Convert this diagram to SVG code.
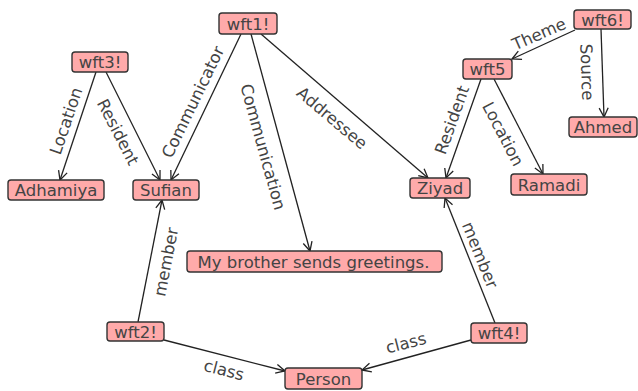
<svg xmlns="http://www.w3.org/2000/svg" width="638" height="391" viewBox="0 0 638 391">
<defs>
<marker id="arr" viewBox="-10 -6 12 12" refX="0" refY="0" markerWidth="12" markerHeight="12" markerUnits="userSpaceOnUse" orient="auto">
<path d="M-9,-4.5 L0,0 L-9,4.5" fill="none" stroke="#222" stroke-width="1.3"/>
</marker>
<style>
.n rect{fill:#ffaaaa;stroke:#333;stroke-width:1.4}
.n text{font-family:"DejaVu Sans",sans-serif;font-size:16.5px;fill:#444;text-anchor:middle}
#edges line{stroke:#222;stroke-width:1.3;marker-end:url(#arr)}
#edges text{font-family:"DejaVu Sans",sans-serif;font-size:16.5px;fill:#444;text-anchor:middle}
</style>
</defs>
<rect width="638" height="391" fill="#fff"/>
<g id="edges">
<line x1="96" y1="72" x2="60" y2="180"/>
<line x1="106" y1="72" x2="160" y2="180"/>
<line x1="241" y1="34" x2="171" y2="180"/>
<line x1="251" y1="34" x2="310" y2="251"/>
<line x1="261" y1="34" x2="428" y2="178"/>
<line x1="575" y1="30" x2="512" y2="59"/>
<line x1="601" y1="29" x2="604" y2="117"/>
<line x1="481" y1="79" x2="446" y2="178"/>
<line x1="494" y1="79" x2="543" y2="174"/>
<line x1="138" y1="322" x2="162" y2="200"/>
<line x1="164" y1="340" x2="285" y2="371"/>
<line x1="495" y1="323" x2="445" y2="198"/>
<line x1="471" y1="340" x2="362" y2="370"/>
<text transform="translate(66,121) rotate(-71.2)" y="5.7">Location</text>
<text transform="translate(118,132) rotate(62.8)" y="5.7">Resident</text>
<text transform="translate(193,102) rotate(-64.1)" y="5.7">Communicator</text>
<text transform="translate(263,147) rotate(74.5)" y="5.7">Communication</text>
<text transform="translate(332,118) rotate(40.2)" y="5.7">Addressee</text>
<text transform="translate(539,34) rotate(-23.5)" y="5.7">Theme</text>
<text transform="translate(587,72) rotate(88)" y="5.7">Source</text>
<text transform="translate(452,120) rotate(-70.3)" y="5.7">Resident</text>
<text transform="translate(503,134) rotate(62.5)" y="5.7">Location</text>
<text transform="translate(166,262) rotate(-78.9)" y="5.7">member</text>
<text transform="translate(224,370) rotate(14.4)" y="5.7">class</text>
<text transform="translate(480,255) rotate(68)" y="5.7">member</text>
<text transform="translate(406,343) rotate(-14.3)" y="5.7">class</text>
</g>
<g id="wft1" class="n"><rect x="219" y="13" width="58" height="21" rx="3"/><text x="248" y="29.5">wft1!</text></g>
<g id="wft3" class="n"><rect x="72" y="52" width="56" height="20" rx="3"/><text x="100" y="68">wft3!</text></g>
<g id="adhamiya" class="n"><rect x="8" y="180" width="96" height="20" rx="3"/><text x="56" y="196">Adhamiya</text></g>
<g id="sufian" class="n"><rect x="133" y="180" width="66" height="20" rx="3"/><text x="166" y="196">Sufian</text></g>
<g id="wft6" class="n"><rect x="574" y="10" width="57" height="19" rx="3"/><text x="602.5" y="25.5">wft6!</text></g>
<g id="wft5" class="n"><rect x="463" y="59" width="49" height="20" rx="3"/><text x="487.5" y="75">wft5</text></g>
<g id="ahmed" class="n"><rect x="569" y="117" width="68" height="20" rx="3"/><text x="603" y="133">Ahmed</text></g>
<g id="ziyad" class="n"><rect x="410" y="178" width="60" height="20" rx="3"/><text x="440" y="194">Ziyad</text></g>
<g id="ramadi" class="n"><rect x="511" y="174" width="76" height="21" rx="3"/><text x="549" y="190.5">Ramadi</text></g>
<g id="message" class="n"><rect x="187" y="251" width="255" height="21" rx="3"/><text x="313.5" y="267.5">My brother sends greetings.</text></g>
<g id="wft2" class="n"><rect x="107" y="322" width="57" height="19" rx="3"/><text x="135.5" y="337.5">wft2!</text></g>
<g id="person" class="n"><rect x="285" y="368" width="77" height="21" rx="3"/><text x="323.5" y="384.5">Person</text></g>
<g id="wft4" class="n"><rect x="471" y="323" width="56" height="20" rx="3"/><text x="499" y="339">wft4!</text></g>
</svg>
